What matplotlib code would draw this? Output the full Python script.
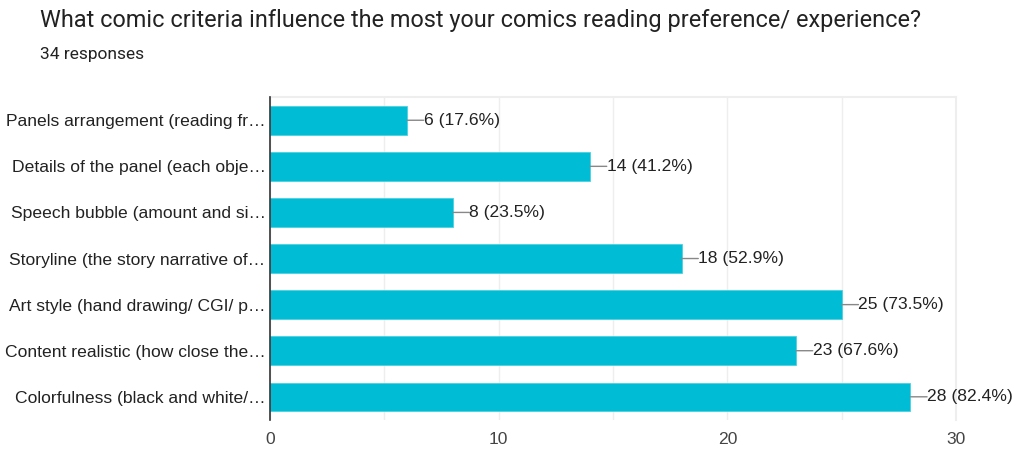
import matplotlib.pyplot as plt

# survey results
criteria = [
    'Panels arrangement (reading fr…',
    'Details of the panel (each obje…',
    'Speech bubble (amount and si…',
    'Storyline (the story narrative of…',
    'Art style (hand drawing/ CGI/ p…',
    'Content realistic (how close the…',
    'Colorfulness (black and white/…',
]
counts = [6, 14, 8, 18, 25, 23, 28]
total = 34
xticks = [0, 10, 20, 30]

bar_color = '#00bcd4'
text_color = '#222222'

plt.rcParams['font.family'] = ['Liberation Sans', 'DejaVu Sans']

fig = plt.figure(figsize=(10.14, 4.5), dpi=100)
ax = fig.add_axes([0.266, 0.067, 0.677, 0.717])

ypos = list(range(len(criteria)))
ax.barh(ypos, counts, height=0.62, color=bar_color, edgecolor='#4dd0e1', linewidth=0.6, zorder=3)

# value labels with a short leader line
for y, c in zip(ypos, counts):
    pct = c / total * 100
    ax.annotate('', xy=(c, y), xytext=(12, 0), textcoords='offset points',
                arrowprops=dict(arrowstyle='-', color='#888888', lw=1.0,
                                shrinkA=0, shrinkB=0), zorder=4)
    ax.annotate(f'{c} ({pct:.1f}%)', xy=(c, y), xytext=(12, 0),
                textcoords='offset points', ha='left', va='center',
                fontsize=12.6, color=text_color)

ax.set_xlim(0, 30)
ax.set_ylim(len(criteria) - 0.5, -0.5)
ax.set_yticks(ypos)
ax.set_yticklabels(criteria, fontsize=12.6, color=text_color)
ax.set_xticks(xticks)
ax.set_xticklabels([str(t) for t in xticks], fontsize=12.6, color='#444444')
ax.set_xticks([5, 15, 25], minor=True)
ax.tick_params(axis='both', which='both', length=0)
ax.tick_params(axis='x', pad=9)
ax.tick_params(axis='y', pad=3)
ax.grid(axis='x', which='both', color='#eeeeee', lw=1.0, zorder=0)

ax.spines['left'].set_color('#333333')
ax.spines['left'].set_linewidth(1.2)
ax.spines['left'].set_zorder(5)
ax.spines['bottom'].set_visible(False)
for s in ['top', 'right']:
    ax.spines[s].set_color('#eeeeee')
    ax.spines[s].set_linewidth(1.5)

fig.text(40 / 1014, 1 - 21 / 450, 'What comic criteria influence the most your comics reading preference/ experience?',
         fontsize=16.9, family=['Roboto', 'DejaVu Sans'], color=text_color, va='center', ha='left')
fig.text(40 / 1014, 1 - 55 / 450, '34 responses', fontsize=12.5, family=['Roboto', 'DejaVu Sans'],
         color=text_color, va='center', ha='left')

fig.savefig('out.png', dpi=100, facecolor='white')
